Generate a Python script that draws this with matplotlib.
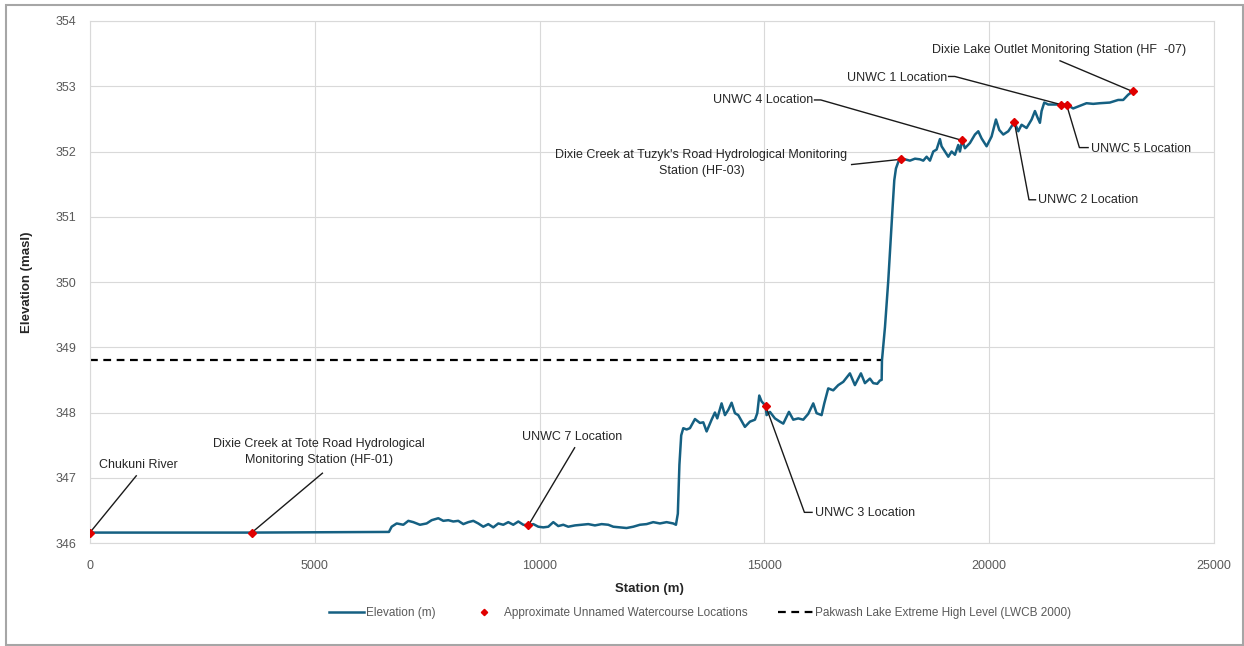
import matplotlib
matplotlib.use('Agg')
import matplotlib.pyplot as plt
from matplotlib.patches import Rectangle

# Profil en long du ruisseau : chaînage (m) et élévation (m)
station = [0, 3600, 6650, 6710, 6822, 6970, 7081, 7192, 7340, 7488, 7600, 7748, 7859, 7970,
           8081, 8192, 8304, 8415, 8526, 8637, 8748, 8860, 8971, 9082, 9193, 9304, 9415, 9527,
           9638, 9750, 9860, 9972, 10083, 10194, 10305, 10416, 10527, 10638, 10787, 10935,
           11083, 11231, 11380, 11528, 11639, 11787, 11935, 12084, 12232, 12380, 12528, 12677,
           12825, 12973, 13033, 13075, 13110, 13150, 13196, 13270, 13344, 13456, 13567, 13641,
           13715, 13826, 13900, 13952, 14048, 14123, 14197, 14271, 14345, 14419, 14493, 14567,
           14678, 14790, 14842, 14886, 14938, 15030, 15049, 15123, 15234, 15345, 15420, 15546,
           15642, 15753, 15864, 15976, 16087, 16161, 16272, 16332, 16420, 16531, 16643, 16754,
           16902, 17013, 17147, 17236, 17347, 17421, 17510, 17569, 17608, 17615, 17682, 17756,
           17808, 17852, 17889, 17926, 17978, 18030, 18126, 18237, 18349, 18460, 18534, 18608,
           18682, 18756, 18830, 18904, 18941, 19015, 19090, 19164, 19238, 19312, 19349, 19400,
           19460, 19571, 19683, 19757, 19831, 19942, 20053, 20150, 20224, 20313, 20424, 20560,
           20646, 20720, 20831, 20943, 21017, 21076, 21128, 21165, 21224, 21313, 21461, 21590,
           21720, 21868, 22016, 22164, 22313, 22461, 22683, 22868, 22980, 23090, 23190]
elevation = [346.16, 346.16, 346.17, 346.25, 346.30, 346.28, 346.34, 346.32, 346.28, 346.30,
             346.35, 346.38, 346.34, 346.35, 346.33, 346.34, 346.29, 346.32, 346.34, 346.30,
             346.25, 346.29, 346.24, 346.30, 346.28, 346.32, 346.28, 346.33, 346.28, 346.27,
             346.29, 346.25, 346.24, 346.25, 346.32, 346.26, 346.28, 346.25, 346.27, 346.28,
             346.29, 346.27, 346.29, 346.28, 346.25, 346.24, 346.23, 346.25, 346.28, 346.29,
             346.32, 346.30, 346.32, 346.30, 346.28, 346.45, 347.20, 347.65, 347.76, 347.74,
             347.76, 347.90, 347.84, 347.85, 347.71, 347.89, 348.00, 347.91, 348.14, 347.96,
             348.04, 348.15, 347.99, 347.96, 347.87, 347.78, 347.86, 347.89, 347.99, 348.26,
             348.17, 348.10, 347.96, 348.01, 347.91, 347.86, 347.83, 348.01, 347.89, 347.91,
             347.89, 347.98, 348.14, 347.99, 347.96, 348.14, 348.37, 348.34, 348.42, 348.47,
             348.60, 348.42, 348.60, 348.45, 348.52, 348.45, 348.44, 348.49, 348.50, 348.80,
             349.31, 350.03, 350.64, 351.15, 351.56, 351.74, 351.84, 351.88, 351.88, 351.86,
             351.89, 351.88, 351.86, 351.92, 351.86, 352.00, 352.03, 352.19, 352.08, 352.00,
             351.92, 352.00, 351.95, 352.10, 352.00, 352.17, 352.05, 352.13, 352.26, 352.31,
             352.20, 352.08, 352.23, 352.49, 352.33, 352.26, 352.31, 352.45, 352.31, 352.41,
             352.36, 352.49, 352.62, 352.52, 352.44, 352.62, 352.75, 352.72, 352.72, 352.72,
             352.72, 352.66, 352.70, 352.74, 352.73, 352.74, 352.75, 352.79, 352.79, 352.87,
             352.92]

# Points d'intérêt (stations et cours d'eau non nommés)
point_station = [0, 3600, 9750, 15030, 18030, 19400, 20560, 21590, 21720, 23190]
point_elev = [346.16, 346.16, 346.27, 348.10, 351.88, 352.17, 352.45, 352.72, 352.72, 352.92]

# Niveau extrême du lac Pakwash
hwl_station = [0, 17600]
hwl_elev = [348.8, 348.8]

# Étiquettes : texte, point associé, position du texte, alignement, coude, bout du trait
label_text = ['Chukuni River',
              'Dixie Creek at Tote Road Hydrological\nMonitoring Station (HF-01)',
              'UNWC 7 Location',
              'UNWC 3 Location',
              "Dixie Creek at Tuzyk's Road Hydrological Monitoring\nStation (HF-03)",
              'UNWC 4 Location',
              'UNWC 2 Location',
              'UNWC 1 Location',
              'UNWC 5 Location',
              'Dixie Lake Outlet Monitoring Station (HF  -07)']
label_point = [0, 1, 2, 3, 4, 5, 6, 7, 8, 9]
label_pos = [(194, 347.20), (5084, 347.39), (10720, 347.62), (16135, 346.46),
             (13600, 351.82), (13866, 352.79), (21085, 351.25), (16848, 353.13),
             (22264, 352.04), (21560, 353.56)]
label_ha = ['left', 'center', 'center', 'left', 'center', 'left', 'left', 'left', 'left', 'center']
leader_knee = [(1030, 347.03), (5170, 347.07), (10780, 347.46), (15890, 346.47),
               (16940, 351.80), (16255, 352.79), (20885, 351.26), (19235, 353.15),
               (22006, 352.06), (21575, 353.39)]
leader_stub = [None, None, None, 16060, None, 16115, 21030, 19097, 22200, None]

line_color = '#156082'
sans = ['Liberation Sans', 'DejaVu Sans']

fig = plt.figure(figsize=(12.44, 6.46), dpi=100)
ax = fig.add_axes([0.0723, 0.1594, 0.9036, 0.8081])

ax.plot(station, elevation, color=line_color, lw=1.8, label='Elevation (m)', zorder=3)
ax.plot(point_station, point_elev, ls='none', marker='D', ms=4, color='#e00000',
        label='Approximate Unnamed Watercourse Locations', zorder=5)
ax.plot(hwl_station, hwl_elev, color='black', lw=1.6, dashes=(3.5, 2.5),
        label='Pakwash Lake Extreme High Level (LWCB 2000)', zorder=2)

for i, txt in enumerate(label_text):
    px, py = point_station[label_point[i]], point_elev[label_point[i]]
    kx, ky = leader_knee[i]
    xs, ys = [px, kx], [py, ky]
    if leader_stub[i] is not None:
        xs.append(leader_stub[i])
        ys.append(ky)
    ax.plot(xs, ys, color='#1a1a1a', lw=1.0, zorder=4)
    ax.text(label_pos[i][0], label_pos[i][1], txt, ha=label_ha[i], va='center',
            family=sans, fontsize=9, color='#262626', linespacing=1.45, zorder=6)

ax.set_xlim(0, 25000)
ax.set_ylim(346, 354)
ax.set_xticks(range(0, 25001, 5000))
ax.set_yticks(range(346, 355))
ax.grid(color='#d9d9d9', lw=0.8)
ax.set_axisbelow(True)
for s in ax.spines.values():
    s.set_color('#d9d9d9')
    s.set_linewidth(0.8)
ax.tick_params(length=0, colors='#595959', labelsize=9)
ax.tick_params(axis='x', pad=12)
ax.tick_params(axis='y', pad=10)
for lab in ax.get_xticklabels() + ax.get_yticklabels():
    lab.set_family(sans)

ax.set_xlabel('Station (m)', family=sans, fontsize=9.5, fontweight='bold', color='#262626')
ax.xaxis.set_label_coords(0.498, -0.077)
ax.set_ylabel('Elevation (masl)', family=sans, fontsize=9.5,
              fontweight='bold', color='#262626')
ax.yaxis.set_label_coords(-0.051, 0.5)

leg = fig.legend(loc='center', bbox_to_anchor=(0.5627, 0.051), ncol=3, frameon=False,
                 handlelength=2.95, handletextpad=0.2, columnspacing=2.6, markerscale=0.8,
                 prop={'family': sans, 'size': 8.5})
for t in leg.get_texts():
    t.set_color('#595959')

# cadre de la zone du graphique
fig.patches.append(Rectangle((6 / 1244, 1 / 646), 1237 / 1244, 640 / 646,
                             transform=fig.transFigure, fill=False,
                             edgecolor='#a6a6a6', lw=1.5))

fig.savefig('out.png', dpi=100)
